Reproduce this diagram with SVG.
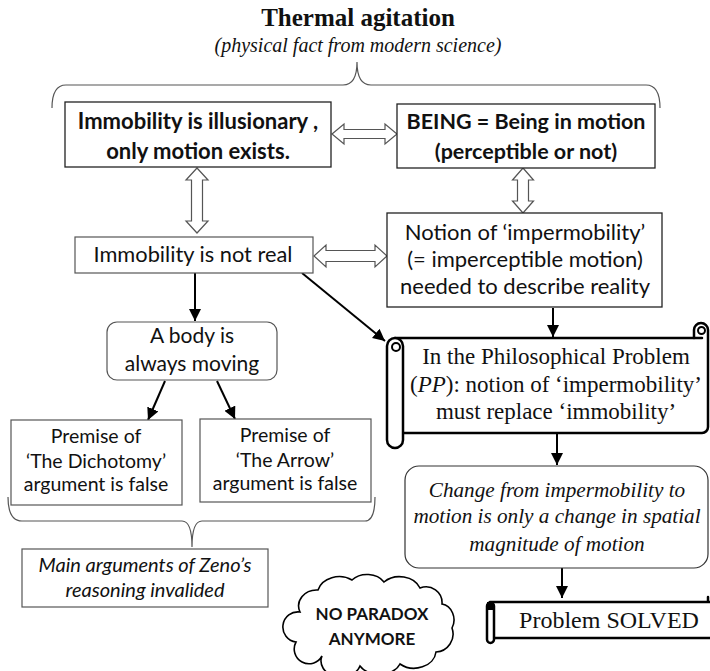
<svg xmlns="http://www.w3.org/2000/svg" width="710" height="671" viewBox="0 0 710 671">
<style>
.sans{font-family:Lato,"Liberation Sans",sans-serif;fill:#111;text-anchor:middle}
.serif{font-family:"Liberation Serif",serif;fill:#111;text-anchor:middle}
.b{font-weight:bold}
.i{font-style:italic}
.box{fill:#fff;stroke:#222;stroke-width:1.3}
.gbox{fill:#fff;stroke:#555;stroke-width:1.2}
.dbl{fill:#fff;stroke:#555;stroke-width:1.2;stroke-linejoin:miter}
.conn{stroke:#000;stroke-width:2;fill:none}
.brace{fill:none;stroke:#555;stroke-width:1.2}
.scroll{fill:#fff;stroke:#000;stroke-width:2.5;stroke-linejoin:round}
.line{fill:none;stroke:#000;stroke-width:2.5;stroke-linecap:round}
</style>
<defs>
<marker id="ah" viewBox="0 0 10 10" markerWidth="12" markerHeight="12" refX="10" refY="5" orient="auto" markerUnits="userSpaceOnUse"><path d="M0,0 L10,5 L0,10 Z" fill="#000"/></marker>
</defs>
<rect width="710" height="671" fill="#fff"/>

<g id="title">
<text class="serif b" x="358" y="26" font-size="25">Thermal agitation</text>
<text class="serif i" x="358" y="52" font-size="20">(physical fact from modern science)</text>
</g>

<g id="braces">
<path class="brace" d="M52,108 Q52,85 66,85 H343 Q357,85 357,62 Q357,85 371,85 H646 Q660,85 660,108"/>
<path class="brace" d="M8,497 Q8,521 22,521 H182 Q192,521 192,547 Q192,521 202,521 H365 Q375,521 375,497"/>
</g>

<g id="connectors">
<path class="dbl" d="M332,134 L344,124 L344,129.5 L385,129.5 L385,124 L397,134 L385,144 L385,138.5 L344,138.5 L344,144 Z"/>
<path class="dbl" d="M197,168 L208,180 L202.5,180 L202.5,221 L208,221 L197,233 L186,221 L191.5,221 L191.5,180 L186,180 Z"/>
<path class="dbl" d="M523,168 L533.5,180 L528.5,180 L528.5,201 L533.5,201 L523,213 L512.5,201 L517.5,201 L517.5,180 L512.5,180 Z"/>
<path class="dbl" d="M314,256 L326,245 L326,250.5 L375,250.5 L375,245 L387,256 L375,267 L375,261.5 L326,261.5 L326,267 Z"/>
<line class="conn" x1="553" y1="308" x2="553" y2="337" marker-end="url(#ah)"/>
<line class="conn" x1="302" y1="273" x2="385" y2="341" marker-end="url(#ah)"/>
<line class="conn" x1="195" y1="273" x2="195" y2="321" marker-end="url(#ah)"/>
<line class="conn" x1="165" y1="381" x2="148" y2="420" marker-end="url(#ah)"/>
<line class="conn" x1="217" y1="381" x2="235" y2="419" marker-end="url(#ah)"/>
<line class="conn" x1="557" y1="434" x2="557" y2="465" marker-end="url(#ah)"/>
<line class="conn" x1="562" y1="568" x2="562" y2="598" marker-end="url(#ah)"/>
</g>

<g id="n-illusionary">
<rect class="box" x="65" y="102" width="266" height="65"/>
<text class="sans b" x="198" y="129" font-size="22">Immobility is illusionary ,</text>
<text class="sans b" x="198" y="159" font-size="22">only motion exists.</text>
</g>

<g id="n-being">
<rect class="box" x="397" y="104" width="258" height="64"/>
<text class="sans b" x="526" y="129" font-size="21.5">BEING = Being in motion</text>
<text class="sans b" x="526" y="159" font-size="21.5">(perceptible or not)</text>
</g>

<g id="n-notreal">
<rect class="gbox" x="75" y="237" width="238" height="36"/>
<text class="sans" x="193" y="262" font-size="21.8">Immobility is not real</text>
</g>

<g id="n-notion">
<rect class="box" x="387" y="213" width="275" height="94"/>
<text class="sans" x="525" y="240" font-size="22">Notion of ‘impermobility’</text>
<text class="sans" x="525" y="267" font-size="22">(= imperceptible motion)</text>
<text class="sans" x="525" y="294" font-size="22">needed to describe reality</text>
</g>

<g id="n-body">
<rect class="gbox" x="107" y="322" width="170" height="58" rx="10"/>
<text class="sans" x="192" y="343" font-size="21">A body is</text>
<text class="sans" x="192" y="371" font-size="21">always moving</text>
</g>

<g id="n-dichotomy">
<rect class="gbox" x="11" y="420" width="171" height="85"/>
<text class="sans" x="96" y="443" font-size="19.5">Premise of</text>
<text class="sans" x="96" y="468" font-size="19.5">‘The Dichotomy’</text>
<text class="sans" x="96" y="491" font-size="19.5">argument is false</text>
</g>

<g id="n-arrow">
<rect class="gbox" x="200" y="419" width="171" height="83"/>
<text class="sans" x="285" y="442" font-size="19.5">Premise of</text>
<text class="sans" x="285" y="467" font-size="19.5">‘The Arrow’</text>
<text class="sans" x="285" y="490" font-size="19.5">argument is false</text>
</g>

<g id="n-zeno">
<rect class="gbox" x="22" y="549" width="246" height="58"/>
<text class="sans i" x="145" y="572" font-size="20">Main arguments of Zeno’s</text>
<text class="sans i" x="145" y="597" font-size="20">reasoning invalided</text>
</g>

<g id="n-pp">
<rect x="395" y="338" width="313" height="95" fill="#fff"/>
<path class="line" d="M395,338 H702"/>
<path class="line" d="M694,338 V330 A7,7 0 0 1 708,330 V427 A6,6 0 0 1 702,433 H403"/>
<circle cx="701.5" cy="330.5" r="3.5" fill="none" stroke="#000" stroke-width="2"/>
<path class="scroll" d="M387,346 A8,8 0 0 1 403,346 V440 A8,8 0 0 1 387,440 Z"/>
<circle cx="396" cy="347" r="4" fill="none" stroke="#000" stroke-width="2"/>
<text class="serif" x="556" y="364" font-size="23">In the Philosophical Problem</text>
<text class="serif" x="556" y="392" font-size="23">(<tspan font-style="italic">PP</tspan>): notion of ‘impermobility’</text>
<text class="serif" x="556" y="419" font-size="23">must replace ‘immobility’</text>
</g>

<g id="n-change">
<rect x="405" y="466" width="303" height="102" rx="14" fill="#fff" stroke="#333" stroke-width="1.2"/>
<text class="serif i" x="557" y="497" font-size="21.2">Change from impermobility to</text>
<text class="serif i" x="557" y="523" font-size="21.2">motion is only a change in spatial</text>
<text class="serif i" x="557" y="551" font-size="21.2">magnitude of motion</text>
</g>

<g id="n-solved">
<rect x="490" y="602" width="230" height="36" fill="#fff"/>
<path class="line" d="M490,602 H712 M494,638 H712 M708,602 V597"/>
<path class="scroll" d="M487,606 A3.5,3.5 0 0 1 494,606 V639.5 A3.5,3.5 0 0 1 487,639.5 Z"/>
<rect x="487" y="602" width="7" height="8" fill="#000"/>
<text class="serif" x="609" y="628" font-size="24">Problem SOLVED</text>
</g>

<g id="n-cloud">
<path d="M300,612 A18,16 0 0 1 318,590 A22,18 0 0 1 352,580 A20,16 0 0 1 384,582 A22,18 0 0 1 420,588 A16,16 0 0 1 442,604 A14,16 0 0 1 452,628 A18,18 0 0 1 436,652 A22,18 0 0 1 400,664 A22,16 0 0 1 360,666 A20,16 0 0 1 322,656 A14,14 0 0 1 296,642 A14,14 0 0 1 300,612 Z" fill="#fff" stroke="#000" stroke-width="1.6"/>
<text class="sans b" x="372" y="620" font-size="17">NO PARADOX</text>
<text class="sans b" x="372" y="645" font-size="17">ANYMORE</text>
</g>
</svg>
